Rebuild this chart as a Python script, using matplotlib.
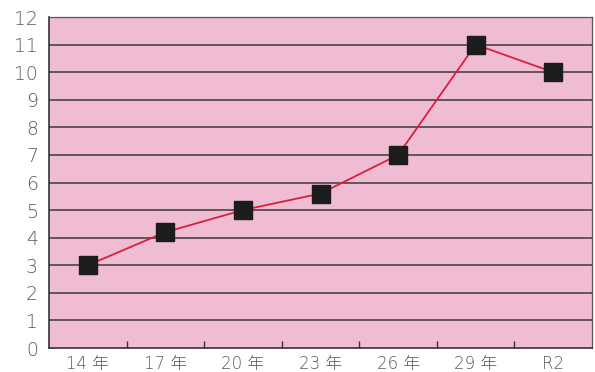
import matplotlib
matplotlib.use('Agg')
import matplotlib.pyplot as plt
import numpy as np

plt.rcParams['font.family'] = ['DejaVu Sans', 'Noto Sans CJK JP']

# ── Data ──────────────────────────────────────────────────────────────────────
years  = ["14 年", "17 年", "20 年", "23 年", "26 年", "29 年", "R2"]
values = [3.0, 4.2, 5.0, 5.6, 7.0, 11.0, 10.0]
yticks = list(range(0, 13))

# ── Figure ────────────────────────────────────────────────────────────────────
fig = plt.figure(figsize=(5.95, 3.72), dpi=100)
ax = fig.add_axes([0.0824, 0.0645, 0.9126, 0.8898])
ax.set_facecolor("#efbcd3")

x = np.arange(len(years))
ax.set_xlim(-0.5, len(years) - 0.5)
ax.set_ylim(0, 12)

for yv in yticks[1:-1]:
    ax.axhline(yv, color="#3a3a3a", lw=1.1, zorder=1)

ax.plot(x, values, color="#d8203c", lw=1.3, zorder=2)
ax.plot(x, values, ls="none", marker="s", ms=12.5, color="#1c1c1c",
        mec="#1c1c1c", zorder=3)

# category boundary ticks on the x axis (inward)
ax.set_xticks(x[:-1] + 0.5, minor=True)
ax.tick_params(axis="x", which="minor", direction="in", length=5,
               width=1, color="#333333")
ax.set_xticks(x)
ax.set_xticklabels(years, fontweight="light")
ax.tick_params(axis="x", which="major", length=0, pad=5,
               labelsize=12, labelcolor="#5a5a5a")

ax.set_yticks(yticks)
ax.set_yticklabels([str(v) for v in yticks], fontweight="light")
ax.tick_params(axis="y", length=0, pad=8, labelsize=13.5,
               labelcolor="#5a5a5a")

for side in ["left", "bottom"]:
    ax.spines[side].set_color("#333333")
    ax.spines[side].set_linewidth(1.2)
for side in ["top", "right"]:
    ax.spines[side].set_color("#555555")
    ax.spines[side].set_linewidth(0.9)

fig.savefig("out.png", dpi=100)
